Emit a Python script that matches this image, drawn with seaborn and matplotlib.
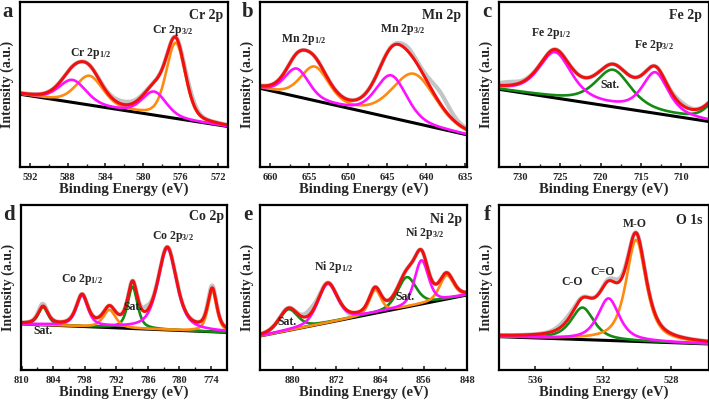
import numpy as np
import pandas as pd
import matplotlib
matplotlib.use("Agg")
import matplotlib.pyplot as plt
import seaborn as sns

sns.set_theme(style="white")
plt.rcParams["font.family"] = ["Liberation Serif", "DejaVu Serif"]
plt.rcParams["font.weight"] = "bold"
plt.rcParams["mathtext.fontset"] = "custom"
plt.rcParams["mathtext.rm"] = "Liberation Serif:bold"
plt.rcParams["mathtext.it"] = "Liberation Serif:bold"
plt.rcParams["mathtext.bf"] = "Liberation Serif:bold"

# ---------------- data ----------------
# x ranges (left, right) in eV
a_xlim = (593.1, 570.9); b_xlim = (661.3, 634.8); c_xlim = (732.6, 706.6)
d_xlim = (810.1, 770.9); e_xlim = (886.0, 848.0); f_xlim = (538.1, 525.8)
a_ticks = [592, 588, 584, 580, 576, 572]
b_ticks = [660, 655, 650, 645, 640, 635]
c_ticks = [730, 725, 720, 715, 710]
d_ticks = [810, 804, 798, 792, 786, 780, 774]
e_ticks = [880, 872, 864, 856, 848]
f_ticks = [536, 532, 528]
# background (value at left edge, value at right edge), % of axis height
a_bg = (44.1, 24.5); b_bg = (47.7, 19.5); c_bg = (47.1, 27.6)
d_bg = (27.9, 22.8); e_bg = (20.6, 45.5); f_bg = (20.2, 15.8)
# fitted components: centre (eV), height (%), FWHM (eV), colour group
a_cen = [576.5, 578.8, 585.7, 587.5]
a_hgt = [45.7, 14.1, 17.5, 13.5]
a_fw = [2.4, 3.0, 3.4, 3.4]
a_grp = ["orange", "magenta", "orange", "magenta"]
b_cen = [656.6, 654.3, 644.5, 641.6]
b_hgt = [16.7, 20.1, 25.6, 29.6]
b_fw = [3.6, 4.2, 4.6, 6.5]
b_grp = ["magenta", "orange", "magenta", "orange"]
c_cen = [725.65, 718.45, 713.2, 705.0]
c_hgt = [27.4, 22.3, 24.3, 17.0]
c_fw = [4.8, 5.2, 3.8, 3.5]
c_grp = ["magenta", "green", "magenta", "green"]
d_cen = [805.9, 798.5, 793.3, 788.9, 782.3, 773.75]
d_hgt = [10.7, 18.4, 10.7, 25.3, 49.5, 24.8]
d_fw = [2.2, 2.6, 2.8, 2.2, 4.2, 2.0]
d_grp = ["green", "magenta", "orange", "green", "magenta", "orange"]
e_cen = [880.8, 873.6, 864.9, 859.1, 856.4, 851.8]
e_hgt = [12.7, 23.4, 14.1, 18.0, 26.3, 14.3]
e_fw = [4.0, 4.2, 2.5, 4.0, 3.0, 3.0]
e_grp = ["green", "magenta", "orange", "green", "magenta", "orange"]
f_cen = [533.2, 531.67, 530.05]
f_hgt = [19.4, 25.5, 61.6]
f_fw = [1.6, 1.5, 1.4]
f_grp = ["green", "magenta", "orange"]
# Lorentzian fraction of the line shapes
a_eta, b_eta, c_eta, d_eta, e_eta, f_eta = 0.3, 0.3, 0.6, 0.6, 0.4, 0.7
# raw-data deviations from the envelope: centre, height, FWHM
a_res = ([582.0, 575.0], [1.8, 2.5], [3.0, 1.5])
b_res = ([638.2, 642.3], [7.0, 2.0], [3.0, 2.0])
c_res = ([731.5, 710.0], [2.0, 1.5], [3.0, 2.0])
d_res = ([786.3, 774.0, 806.2], [3.0, 1.5, 1.5], [1.5, 1.5, 1.5])
e_res = ([876.8, 868.5], [3.0, -2.5], [2.5, 2.5])
f_res = ([534.2, 531.2], [2.0, 2.0], [1.2, 1.0])

# titles and annotations
a_title, b_title, c_title = "Cr 2p", "Mn 2p", "Fe 2p"
d_title, e_title, f_title = "Co 2p", "Ni 2p", "O 1s"
a_lab = [("Cr 2p$_{1/2}$", 585.6, 68.8), ("Cr 2p$_{3/2}$", 576.8, 82.5)]
b_lab = [("Mn 2p$_{1/2}$", 655.7, 77.3), ("Mn 2p$_{3/2}$", 643.1, 83.3)]
c_lab = [("Fe 2p$_{1/2}$", 726.1, 80.9), ("Fe 2p$_{3/2}$", 713.4, 73.4), ("Sat.", 718.8, 49.7)]
d_lab = [("Co 2p$_{1/2}$", 798.5, 54.9), ("Co 2p$_{3/2}$", 781.2, 80.8),
         ("Sat.", 788.8, 38.0), ("Sat.", 806.0, 23.6)]
e_lab = [("Ni 2p$_{3/2}$", 855.9, 82.8), ("Ni 2p$_{1/2}$", 872.5, 62.6),
         ("Sat.", 881.0, 29.3), ("Sat.", 859.4, 44.4)]
f_lab = [("M-O", 530.1, 88.5), ("C=O", 532.0, 59.6), ("C-O", 533.8, 53.5)]
letters = ["a", "b", "c", "d", "e", "f"]

# ---------------- styling ----------------
COL = {"orange": "#ff8a10", "magenta": "#ff10ff", "green": "#138a13"}
RED = "#f01010"
GRAY = "#c4c4c4"

W, H = 709, 403
fig = plt.figure(figsize=(W / 100, H / 100), dpi=100)

# axes boxes in pixels (left, top, right, bottom)
boxes = [(20, 2, 228.3, 167), (260, 2, 467, 167), (499, 2, 708.5, 167),
         (21, 205, 227.3, 370), (260, 205, 467.3, 370), (499, 205, 708.5, 370)]

panels = [
    (a_xlim, a_ticks, a_bg, a_cen, a_hgt, a_fw, a_grp, a_eta, a_res, a_title, a_lab, 0.975, 0.92),
    (b_xlim, b_ticks, b_bg, b_cen, b_hgt, b_fw, b_grp, b_eta, b_res, b_title, b_lab, 0.974, 0.92),
    (c_xlim, c_ticks, c_bg, c_cen, c_hgt, c_fw, c_grp, c_eta, c_res, c_title, c_lab, 0.97, 0.92),
    (d_xlim, d_ticks, d_bg, d_cen, d_hgt, d_fw, d_grp, d_eta, d_res, d_title, d_lab, 0.985, 0.93),
    (e_xlim, e_ticks, e_bg, e_cen, e_hgt, e_fw, e_grp, e_eta, e_res, e_title, e_lab, 0.973, 0.91),
    (f_xlim, f_ticks, f_bg, f_cen, f_hgt, f_fw, f_grp, f_eta, f_res, f_title, f_lab, 0.97, 0.905),
]


def pv(E, c, h, w, eta):
    u = (E - c) / w
    return h * (eta / (1 + 4 * u ** 2) + (1 - eta) * np.exp(-4 * np.log(2) * u ** 2))


for i, (xl, ticks, bg, cen, hgt, fw, grp, eta, res, title, labs, tx, ty) in enumerate(panels):
    l, t, r, b = boxes[i]
    ax = fig.add_axes([l / W, 1 - b / H, (r - l) / W, (b - t) / H])
    E = np.linspace(xl[0], xl[1], 800)
    base = bg[0] + (bg[1] - bg[0]) * (E - xl[0]) / (xl[1] - xl[0])
    peaks = [pv(E, c, h, w, eta) for c, h, w in zip(cen, hgt, fw)]
    env = base + np.sum(peaks, axis=0)
    raw = env + np.sum([pv(E, c, h, w, 0.3) for c, h, w in zip(*res)], axis=0)

    sns.lineplot(x=E, y=raw, ax=ax, color=GRAY, lw=3.0, sort=False)
    sns.lineplot(x=E, y=base, ax=ax, color="black", lw=2.2, sort=False)
    order = [g for g in ["green", "orange", "magenta"] if g in grp]
    for g in order:
        comp = base + np.sum([p for p, gg in zip(peaks, grp) if gg == g], axis=0)
        sns.lineplot(x=E, y=comp, ax=ax, color=COL[g], lw=1.9, sort=False)
    sns.lineplot(x=E, y=env, ax=ax, color=RED, lw=2.2, sort=False)

    ax.set_xlim(xl)
    ax.set_ylim(0, 100)
    ax.set_yticks([])
    ax.set_xticks(ticks)
    mids = [(ticks[k] + ticks[k + 1]) / 2 for k in range(len(ticks) - 1)]
    ax.set_xticks(mids, minor=True)
    ax.set_xticklabels([str(v) for v in ticks], fontsize=7.5, fontweight="bold")
    ax.tick_params(axis="x", which="major", direction="in", length=3, width=1.2, pad=4, bottom=True)
    ax.tick_params(axis="x", which="minor", direction="in", length=2, width=1.0, bottom=True)
    for s in ax.spines.values():
        s.set_linewidth(1.6)
        s.set_color("black")
    ax.set_xlabel("Binding Energy (eV)", fontsize=10.5, fontweight="bold", labelpad=1)
    ax.set_ylabel("Intensity (a.u.)", fontsize=10, fontweight="bold", labelpad=4)
    ax.text(tx, ty, title, transform=ax.transAxes, ha="right", va="center",
            fontsize=10, fontweight="bold")
    for s, x, y in labs:
        ax.text(x, y, s, ha="center", va="center", fontsize=8.5, fontweight="bold")
    fig.text((l - 12) / W, 1 - (t + 10) / H, letters[i], ha="center", va="center",
             fontsize=15, fontweight="bold")

fig.savefig("out.png", dpi=100)
